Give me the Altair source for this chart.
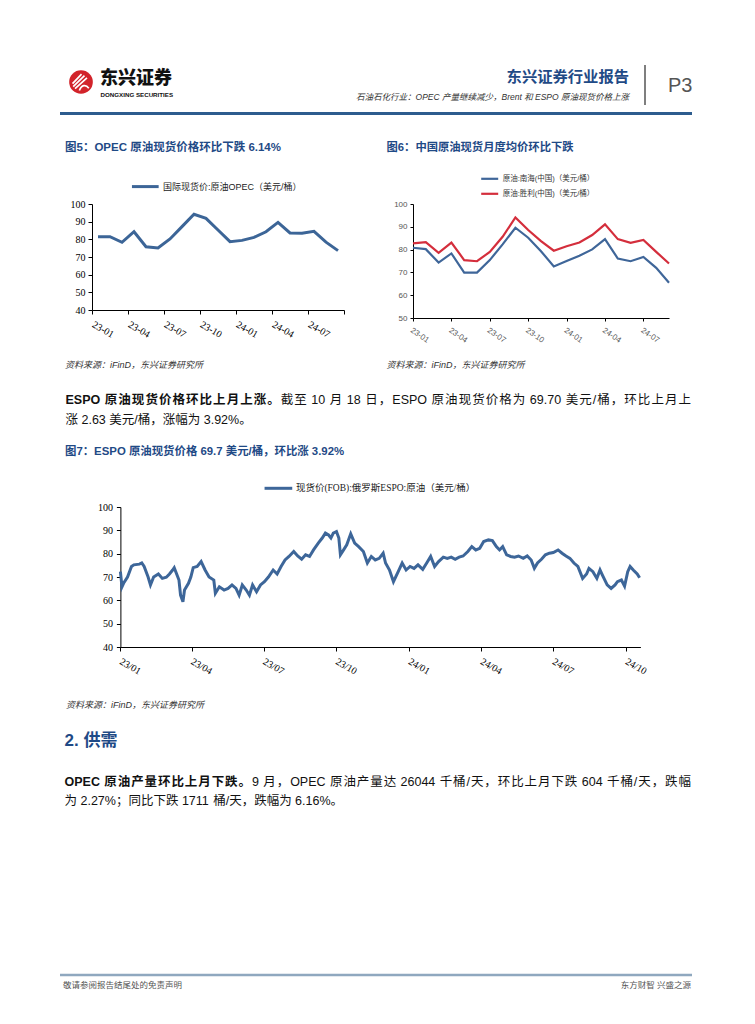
import json
import altair as alt
import pandas as pd

# ---------------------------------------------------------------- data
fig5_months = ["23-01", "23-02", "23-03", "23-04", "23-05", "23-06", "23-07",
               "23-08", "23-09", "23-10", "23-11", "23-12", "24-01", "24-02",
               "24-03", "24-04", "24-05", "24-06", "24-07", "24-08", "24-09"]
fig5_opec = [81.5, 81.5, 78.3, 84.3, 75.8, 75.1, 80.2, 87.2, 94.2, 91.9, 85.3,
             78.7, 79.4, 81.1, 84.3, 89.6, 83.6, 83.4, 84.5, 78.4, 73.6]
fig5_series = "国际现货价:原油OPEC（美元/桶）"
fig5_yticks = [40, 50, 60, 70, 80, 90, 100]

fig6_months = fig5_months
fig6_series = ["原油:南海(中国)（美元/桶）", "原油:胜利(中国)（美元/桶）"]
fig6_nanhai = [80.8, 80.2, 74.3, 78.3, 69.9, 69.9, 75.4, 82.3, 89.6, 85.2, 79.3,
               72.6, 75.0, 77.3, 80.1, 84.6, 76.1, 74.9, 76.8, 72.0, 65.5]
fig6_shengli = [82.7, 83.3, 78.6, 83.1, 75.4, 74.9, 79.0, 85.6, 94.1, 88.6, 83.7,
                79.5, 81.5, 83.1, 86.4, 91.1, 84.6, 83.0, 84.2, 79.0, 73.9]
fig6_yticks = [50, 60, 70, 80, 90, 100]

fig7_series = "现货价(FOB):俄罗斯ESPO:原油（美元/桶）"
espo_dates = [
    "2023-01-01", "2023-01-03", "2023-01-05", "2023-01-10", "2023-01-15", "2023-01-18", "2023-01-25", "2023-01-28", "2023-01-31",
    "2023-02-05", "2023-02-08", "2023-02-12", "2023-02-18", "2023-02-23", "2023-02-28",
    "2023-03-04", "2023-03-08", "2023-03-10", "2023-03-16", "2023-03-18", "2023-03-21", "2023-03-23", "2023-03-28", "2023-03-31",
    "2023-04-03", "2023-04-08", "2023-04-13", "2023-04-18", "2023-04-23", "2023-04-29",
    "2023-05-01", "2023-05-06", "2023-05-12", "2023-05-17", "2023-05-22", "2023-05-27", "2023-05-31",
    "2023-06-04", "2023-06-09", "2023-06-13", "2023-06-17", "2023-06-22", "2023-06-27",
    "2023-07-02", "2023-07-07", "2023-07-13", "2023-07-18", "2023-07-23", "2023-07-28",
    "2023-08-02", "2023-08-08", "2023-08-13", "2023-08-18", "2023-08-23", "2023-08-28",
    "2023-09-02", "2023-09-08", "2023-09-13", "2023-09-17", "2023-09-21", "2023-09-24", "2023-09-27",
    "2023-10-01", "2023-10-04", "2023-10-06", "2023-10-10", "2023-10-14", "2023-10-19", "2023-10-24", "2023-10-29",
    "2023-11-04", "2023-11-09", "2023-11-14", "2023-11-19", "2023-11-24", "2023-11-29",
    "2023-12-02", "2023-12-07", "2023-12-12", "2023-12-18", "2023-12-23", "2023-12-28",
    "2024-01-02", "2024-01-07", "2024-01-12", "2024-01-18", "2024-01-23", "2024-01-28",
    "2024-02-02", "2024-02-07", "2024-02-13", "2024-02-18", "2024-02-23", "2024-02-28",
    "2024-03-04", "2024-03-09", "2024-03-15", "2024-03-20", "2024-03-25", "2024-03-30",
    "2024-04-04", "2024-04-10", "2024-04-15", "2024-04-20", "2024-04-24", "2024-04-28",
    "2024-05-03", "2024-05-08", "2024-05-13", "2024-05-18", "2024-05-24", "2024-05-29",
    "2024-06-03", "2024-06-07", "2024-06-11", "2024-06-16", "2024-06-21", "2024-06-26",
    "2024-07-01", "2024-07-07", "2024-07-12", "2024-07-17", "2024-07-22", "2024-07-27",
    "2024-08-01", "2024-08-07", "2024-08-12", "2024-08-15", "2024-08-20", "2024-08-25", "2024-08-29",
    "2024-09-01", "2024-09-07", "2024-09-12", "2024-09-17", "2024-09-20", "2024-09-25", "2024-09-29",
    "2024-10-03", "2024-10-06", "2024-10-10", "2024-10-15", "2024-10-18",
]
espo_values = [
    72.3, 65.8, 67.3, 70.0, 74.5, 75.2, 75.5, 76.0, 74.5,
    70.0, 66.6, 70.0, 71.3, 69.4, 69.9,
    71.3, 73.0, 74.0, 68.7, 62.2, 59.4, 64.4, 67.3, 70.0,
    74.0, 74.5, 76.6, 73.0, 70.0, 68.7,
    63.0, 65.8, 64.4, 65.1, 66.6, 65.1, 62.2,
    66.6, 64.4, 62.2, 66.6, 63.7, 66.6,
    68.0, 70.0, 73.0, 71.3, 74.5, 77.3,
    78.8, 80.9, 79.0, 77.6, 79.5, 78.8,
    81.6, 84.5, 86.7, 88.8, 88.0, 86.7, 88.8,
    89.5, 86.7, 79.5, 81.6, 83.8, 88.5, 84.5, 83.0,
    80.9, 76.0, 78.8, 77.3, 78.0, 80.2,
    76.0, 73.0, 68.0, 72.3, 76.0, 73.0,
    74.5, 73.7, 75.2, 73.3, 76.0, 78.8,
    74.5, 76.6, 78.5, 78.0, 78.5, 77.6,
    78.5, 79.0, 80.9, 83.0, 81.6, 82.3,
    85.2, 85.9, 85.6, 83.0, 81.6, 83.0,
    79.5, 78.8, 78.5, 79.0, 78.0, 79.0,
    77.3, 73.7, 76.0, 77.6, 79.5, 80.2,
    80.5, 81.6, 80.2, 79.0, 78.0, 76.0,
    74.5, 69.4, 71.3, 73.7, 72.3, 69.4, 73.0,
    70.8, 66.6, 65.1, 66.6, 68.0, 68.7, 66.1,
    72.3, 74.5, 73.0, 71.3, 69.7,
]
fig7_ticks = ["2023-01-01", "2023-04-01", "2023-07-01", "2023-10-01",
              "2024-01-01", "2024-04-01", "2024-07-01", "2024-10-01"]
fig7_domain = ["2023-01-01", "2024-10-19"]
fig7_yticks = [40, 50, 60, 70, 80, 90, 100]

# page texts
logo_cn = "东兴证券"
logo_en = "DONGXING SECURITIES"
report_name = "东兴证券行业报告"
page_no = "P3"
subtitle = "石油石化行业：OPEC 产量继续减少，Brent 和 ESPO 原油现货价格上涨"
title5 = "图5：OPEC 原油现货价格环比下跌 6.14%"
title6 = "图6：中国原油现货月度均价环比下跌"
title7 = "图7：ESPO 原油现货价格 69.7 美元/桶，环比涨 3.92%"
source = "资料来源：iFinD，东兴证券研究所"
p1_bold = "ESPO 原油现货价格环比上月上涨。"
p1_line1 = "截至 10 月 18 日，ESPO 原油现货价格为 69.70 美元/桶，环比上月上"
p1_line2 = "涨 2.63 美元/桶，涨幅为 3.92%。"
section = "2. 供需"
p2_bold = "OPEC 原油产量环比上月下跌。"
p2_line1 = "9 月，OPEC 原油产量达 26044 千桶/天，环比上月下跌 604 千桶/天，跌幅"
p2_line2 = "为 2.27%；同比下跌 1711 桶/天，跌幅为 6.16%。"
footer_left = "敬请参阅报告结尾处的免责声明"
footer_right = "东方财智  兴盛之源"

# ---------------------------------------------------------------- styles
SANS = "'Liberation Sans', 'Noto Sans CJK SC', sans-serif"
SERIF = "'Liberation Serif', 'Noto Sans CJK SC', serif"
CJK = "'Noto Sans CJK SC', sans-serif"
NAVY = "#1F4A86"
BLUE = "#3C6597"
RED = "#D42E3C"
TEXT = "#111111"
PAGE_W, PAGE_H = 739, 1000


def label(s, x, y, size, color=TEXT, weight="normal", style="normal",
          font=SANS, align="left"):
    return alt.Chart(pd.DataFrame({"t": [s]})).mark_text(
        align=align, baseline="middle", fontSize=size, fontWeight=weight,
        fontStyle=style, font=font, color=color
    ).encode(x=alt.value(x), y=alt.value(y), text="t:N")


def hline(x1, x2, y, color, width):
    return alt.Chart(pd.DataFrame({"a": [0]})).mark_rule(
        color=color, strokeWidth=width).encode(
        x=alt.value(x1), x2=alt.value(x2), y=alt.value(y))


def vline(x, y1, y2, color, width):
    return alt.Chart(pd.DataFrame({"a": [0]})).mark_rule(
        color=color, strokeWidth=width).encode(
        x=alt.value(x), y=alt.value(y1), y2=alt.value(y2))


W_REG = {" ": 0.278, ".": 0.278, "/": 0.278, "%": 0.889, "E": 0.667, "S": 0.667,
         "P": 0.667, "O": 0.778, "C": 0.722}


def cw(ch):
    if ord(ch) > 0x2E80:
        return 1.0
    if ch.isdigit():
        return 0.556
    return W_REG.get(ch, 0.556)


def tokenize(segments, fs):
    toks = []
    for text, bold in segments:
        space = 0.0
        word = ""
        for ch in text + "\0":
            if ch != "\0" and ord(ch) < 128 and ch != " ":
                word += ch
                continue
            if word:
                toks.append([word, bold, sum(cw(c) for c in word) * fs, space])
                space = 0.0
                word = ""
            if ch == " ":
                space += cw(" ") * fs
            elif ch != "\0":
                toks.append([ch, bold, fs, space])
                space = 0.0
    return toks


def para_line(segments, x0, y, fs, x1=None):
    toks = tokenize(segments, fs)
    natural = sum(t[2] for t in toks) + sum(t[3] for t in toks[1:])
    extra = 0.0 if x1 is None else (x1 - x0 - natural) / (len(toks) - 1)
    rows = []
    x = x0
    for k, (s, b, w, sp) in enumerate(toks):
        if k > 0:
            x += sp + extra
        rows.append({"t": s, "x": x, "bold": b})
        x += w
    layers = []
    for bold in (True, False):
        sub = [r for r in rows if r["bold"] == bold]
        if not sub:
            continue
        layers.append(alt.Chart(pd.DataFrame(sub)).mark_text(
            align="left", baseline="middle", fontSize=fs,
            fontWeight="bold" if bold else "normal", font=SANS, color=TEXT
        ).encode(x=alt.X("x:Q", scale=None), y=alt.value(y), text="t:N"))
    return layers


def to_dt(s):
    y, m, d = (int(v) for v in s.split("-"))
    return alt.DateTime(year=y, month=m, date=d)


def axis_common(**kw):
    base = dict(grid=False, domainColor="#000", tickColor="#000",
                labelFlush=False, labelOverlap=False)
    base.update(kw)
    return alt.Axis(**base)


# ---------------------------------------------------------------- header
logo_shape = ("M-0.78,0.15L0.05,-0.72M-0.72,0.42L0.32,-0.58M-0.55,0.62L0.55,-0.38"
              "M-0.15,0.78C0.05,0.25 0.45,0.2 0.72,0.58")
logo_circle = alt.Chart(pd.DataFrame({"a": [0]})).mark_point(
    filled=True, shape="circle", size=560, color="#D2232A", opacity=1).encode(
    x=alt.value(73), y=alt.value(74))
logo_marks = alt.Chart(pd.DataFrame({"a": [0]})).mark_point(
    filled=False, shape=logo_shape, size=470, color="white", strokeWidth=1.7,
    opacity=1).encode(x=alt.value(73), y=alt.value(74))

layers = [
    logo_circle, logo_marks,
    label(logo_cn, 92, 71, 18, color="#111", weight=900, font=CJK),
    label(logo_en, 92.5, 86.5, 6.2, color="#111", weight="bold"),
    label(report_name, 621, 69, 15.3, color=NAVY, weight="bold", font=CJK, align="right"),
    vline(637, 57, 97, "#555555", 1.5),
    label(page_no, 660, 78, 20, color="#555555"),
    label(subtitle, 621, 89, 8.5, color="#333333", style="italic", align="right"),
    hline(52, 684, 105.5, "#2D5C8E", 3),
    label(title5, 57, 139.5, 11.5, color=NAVY, weight="bold"),
    label(title6, 378.5, 139.5, 11.3, color=NAVY, weight="bold"),
]

# ---------------------------------------------------------------- fig 5
F5_X = [84, 336]
F5_Y = [302, 196]
n5 = len(fig5_months)
df5 = pd.DataFrame({"idx": list(range(n5)), "month": fig5_months,
                    "value": fig5_opec, "series": fig5_series})
ticks5 = [i - 0.5 for i in range(0, n5 + 1, 3)]
expr5 = json.dumps(fig5_months, ensure_ascii=False) + "[round(datum.value + 0.5)] || ''"

fig5 = alt.Chart(df5).mark_line(strokeWidth=3).encode(
    x=alt.X("idx:Q", title=None,
            scale=alt.Scale(domain=[-0.5, n5 - 0.5], range=F5_X, nice=False, zero=False),
            axis=axis_common(orient="bottom", offset=F5_Y[0] - PAGE_H,
                             values=ticks5, labelExpr=expr5,
                             labelAngle=30, labelAlign="left", labelBaseline="top",
                             labelFont=SERIF, labelFontSize=10, labelColor="#000",
                             labelPadding=5, labelOffset=3, tickSize=4)),
    y=alt.Y("value:Q", title=None,
            scale=alt.Scale(domain=[40, 100], range=F5_Y, nice=False, zero=False),
            axis=axis_common(orient="left", offset=-F5_X[0], values=fig5_yticks,
                             labelFont=SERIF, labelFontSize=10, labelColor="#000",
                             labelPadding=3, tickSize=4)),
    color=alt.Color("series:N", title=None,
                    scale=alt.Scale(domain=[fig5_series], range=[BLUE]),
                    legend=alt.Legend(orient="none", legendX=F5_X[0] + 38.3,
                                      legendY=F5_Y[1] - 32.4,
                                      symbolType="stroke", symbolSize=713,
                                      symbolStrokeWidth=3, labelFont=SANS,
                                      labelFontSize=9, labelColor="#222",
                                      labelOffset=2.6, padding=0, labelLimit=400)),
)
layers.append(fig5)

# ---------------------------------------------------------------- fig 6
F6_X = [405, 661]
F6_Y = [310, 196]
n6 = len(fig6_months)
df6 = pd.DataFrame({
    "idx": list(range(n6)) * 2,
    "month": fig6_months * 2,
    "value": fig6_nanhai + fig6_shengli,
    "series": [fig6_series[0]] * n6 + [fig6_series[1]] * n6,
})
ticks6 = list(range(0, n6 - 1, 3))
expr6 = json.dumps(fig6_months, ensure_ascii=False) + "[round(datum.value)] || ''"

fig6 = alt.Chart(df6).mark_line(strokeWidth=2.2).encode(
    x=alt.X("idx:Q", title=None,
            scale=alt.Scale(domain=[0, n6 - 1], range=F6_X, nice=False, zero=False),
            axis=axis_common(orient="bottom", offset=F6_Y[0] - PAGE_H,
                             values=ticks6, labelExpr=expr6,
                             labelAngle=35, labelAlign="left", labelBaseline="top",
                             labelFont=SANS, labelFontSize=8, labelColor="#555",
                             labelPadding=5, tickSize=3)),
    y=alt.Y("value:Q", title=None,
            scale=alt.Scale(domain=[50, 100], range=F6_Y, nice=False, zero=False),
            axis=axis_common(orient="left", offset=-F6_X[0], values=fig6_yticks,
                             labelFont=SANS, labelFontSize=8, labelColor="#555",
                             labelPadding=3, tickSize=3)),
    color=alt.Color("series:N", title=None,
                    scale=alt.Scale(domain=fig6_series, range=["#3F6699", RED]),
                    legend=alt.Legend(orient="none", legendX=F6_X[0] + 66.7,
                                      legendY=F6_Y[1] - 35.2,
                                      symbolType="stroke", symbolSize=289,
                                      symbolStrokeWidth=2.2, labelFont=SANS,
                                      labelFontSize=7.5, labelColor="#333",
                                      labelOffset=3, padding=0, rowPadding=-6,
                                      labelLimit=400)),
)
layers.append(fig6)

# ---------------------------------------------------------------- middle texts
layers += [
    label(source, 57, 357, 9, color="#333333", style="italic"),
    label(source, 378.5, 357, 9, color="#333333", style="italic"),
]
layers += para_line([(p1_bold, True), (p1_line1, False)], 57.5, 392, 12.5, x1=683)
layers += para_line([(p1_line2, False)], 57.5, 412, 12.5)
layers.append(label(title7, 57, 444, 11.4, color=NAVY, weight="bold"))

# ---------------------------------------------------------------- fig 7
F7_X = [112.4, 632.4]
F7_Y = [639, 499]
df7 = pd.DataFrame({"date": espo_dates, "value": espo_values, "series": fig7_series})
fig7 = alt.Chart(df7).mark_line(strokeWidth=3).encode(
    x=alt.X("date:T", title=None,
            scale=alt.Scale(domain=[to_dt(d) for d in fig7_domain], range=F7_X, nice=False),
            axis=axis_common(orient="bottom", offset=F7_Y[0] - PAGE_H,
                             values=[to_dt(d) for d in fig7_ticks], format="%y/%m",
                             labelAngle=30, labelAlign="left", labelBaseline="top",
                             labelFont=SERIF, labelFontSize=10, labelColor="#000",
                             labelPadding=5, labelOffset=2, tickSize=4)),
    y=alt.Y("value:Q", title=None,
            scale=alt.Scale(domain=[40, 100], range=F7_Y, nice=False, zero=False),
            axis=axis_common(orient="left", offset=-F7_X[0], values=fig7_yticks,
                             labelFont=SERIF, labelFontSize=10, labelColor="#000",
                             labelPadding=4, tickSize=4)),
    color=alt.Color("series:N", title=None,
                    scale=alt.Scale(domain=[fig7_series], range=["#3D6699"]),
                    legend=alt.Legend(orient="none", legendX=F7_X[0] + 142.5,
                                      legendY=F7_Y[1] - 34.2,
                                      symbolType="stroke", symbolSize=767,
                                      symbolStrokeWidth=3, labelFont=SERIF,
                                      labelFontSize=9.5, labelColor="#222",
                                      labelOffset=2, padding=0, labelLimit=400)),
)
layers.append(fig7)

# ---------------------------------------------------------------- bottom texts
layers += [
    label(source, 58, 697, 9, color="#333333", style="italic"),
    label(section, 56.5, 733, 17, color=NAVY, weight="bold"),
]
layers += para_line([(p2_bold, True), (p2_line1, False)], 56.5, 774, 12.5, x1=683)
layers += para_line([(p2_line2, False)], 56.5, 793, 12.5)
layers += [
    hline(52, 684, 967, "#8FA8BF", 2.5),
    label(footer_left, 55, 977, 8.5, color="#555555"),
    label(footer_right, 683, 977, 8.5, color="#555555", align="right"),
]

# ---------------------------------------------------------------- page
chart = alt.layer(*layers).resolve_scale(
    x="independent", y="independent", color="independent"
).resolve_axis(x="independent", y="independent").resolve_legend(
    color="independent"
).properties(
    width=PAGE_W, height=PAGE_H, padding=0, background="white"
).configure_view(strokeWidth=0)

chart.save("out.html", embed_options={"renderer": "svg", "actions": False})
